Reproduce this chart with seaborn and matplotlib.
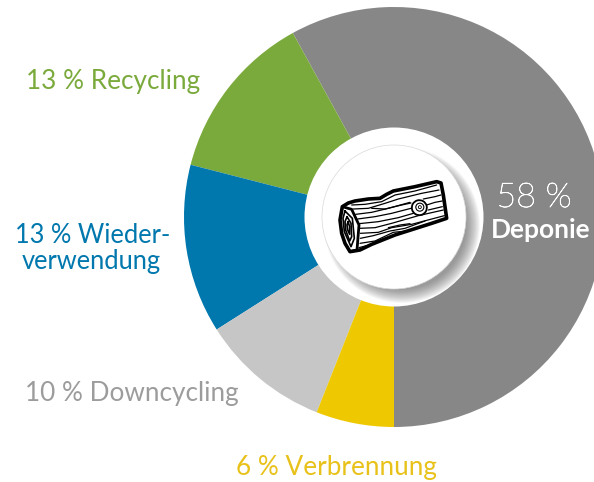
import matplotlib
matplotlib.use("Agg")
import matplotlib.pyplot as plt
import matplotlib.patheffects as pe
from matplotlib.patches import Circle, Ellipse, Polygon
import seaborn as sns

categories = ["Deponie", "Recycling", "Wiederverwendung", "Downcycling", "Verbrennung"]
shares = [58, 13, 13, 10, 6]
slice_colors = ["#878787", "#7BAA3C", "#0077AD", "#C6C6C6", "#EEC800"]

sns.set_theme(style="white")
plt.rcParams["font.family"] = ["Lato", "DejaVu Sans"]
palette = sns.color_palette(slice_colors)

W, H = 594, 482
fig = plt.figure(figsize=(W / 100, H / 100), dpi=100, facecolor="white")
ax = fig.add_axes([0, 0, 1, 1])
ax.set_xlim(0, W)
ax.set_ylim(H, 0)
ax.axis("off")

# Pie in a y-up axes, so that its angles run as usual
pie_ax = fig.add_axes([0, 0, 1, 1], zorder=0)
CX, CY = 394, 217
pie_ax.pie(shares, colors=palette, startangle=270, counterclock=True,
           center=(CX, H - CY), radius=210, frame=True,
           wedgeprops=dict(linewidth=0))
pie_ax.set_xlim(0, W)
pie_ax.set_ylim(0, H)
pie_ax.set_aspect("auto")
pie_ax.axis("off")

ax.set_zorder(1)
ax.patch.set_alpha(0)

# Centre: white ring, soft shadow, white disc
ring = Circle((CX, CY), 89.5, fc="white", ec="none", zorder=2)
ax.add_patch(ring)
for i in range(24):
    r = 78 - i * 0.6
    s = Circle((CX + 8, CY + 8), r, fc="#505050", ec="none", alpha=0.03, zorder=3)
    ax.add_patch(s)
    s.set_clip_path(ring)
ax.add_patch(Circle((CX, CY), 72, fc="white", ec="#d8d8d8", lw=0.5, zorder=4))


def px(points):
    return [(335 + x / 3, 175 + y / 3) for x, y in points]


def stroke(points, lw=1.0):
    xs, ys = zip(*px(points))
    ax.plot(xs, ys, color="black", lw=lw, solid_capstyle="round",
            solid_joinstyle="round", zorder=6)


# Log icon
outline = [(22, 95), (40, 84), (60, 78), (100, 72), (135, 70), (155, 58), (175, 48),
           (240, 35), (305, 20), (318, 24), (325, 60), (335, 130), (290, 145),
           (180, 180), (110, 208), (75, 225), (45, 230), (30, 205), (20, 175), (15, 135)]
ax.add_patch(Polygon(px(outline), closed=True, fc="white", ec="black", lw=2.6,
                     joinstyle="round", zorder=5))
stroke([(22, 95), (50, 103), (72, 150), (66, 225), (45, 230)], 2.0)
for pts in [
    [(30, 108), (52, 130), (58, 190), (48, 215), (28, 170), (24, 130), (30, 108)],
    [(36, 125), (48, 145), (50, 185), (44, 198), (32, 165), (30, 140), (36, 125)],
    [(39, 140), (44, 155), (44, 178), (38, 165), (36, 150), (39, 140)],
]:
    stroke(pts, 1.2)
grains = [
    [(50, 90), (90, 88), (140, 80), (180, 60), (240, 48), (305, 30)],
    [(55, 102), (100, 100), (150, 85), (190, 72), (260, 55), (312, 45)],
    [(62, 118), (110, 112), (160, 100), (225, 82)],
    [(110, 100), (150, 102), (200, 90), (228, 84)],
    [(68, 132), (120, 125), (170, 115), (228, 100)],
    [(72, 146), (130, 140), (190, 128), (235, 115)],
    [(74, 160), (120, 158), (170, 145), (250, 122), (325, 105)],
    [(76, 175), (130, 172), (170, 158), (230, 148), (328, 122)],
    [(76, 190), (115, 182), (165, 168), (210, 160), (270, 138)],
    [(75, 205), (120, 198), (175, 172), (215, 168)],
    [(72, 218), (110, 208), (160, 188), (190, 178)],
    [(265, 72), (300, 65), (318, 60)],
    [(275, 90), (300, 82), (322, 78)],
    [(280, 105), (322, 95)],
    [(160, 158), (195, 150), (225, 146)],
]
for g in grains:
    stroke(g, 0.9)
kx, ky = 335 + 253 / 3, 175 + 98 / 3
ax.add_patch(Ellipse((kx, ky), 15, 15, angle=-15, fc="white", ec="black", lw=1.3, zorder=7))
ax.add_patch(Ellipse((kx + 0.5, ky - 0.5), 8, 8, fc="white", ec="black", lw=0.8, zorder=7))
ax.add_patch(Ellipse((kx + 0.5, ky - 0.5), 3, 3, fc="white", ec="black", lw=0.6, zorder=7))

# Labels
fam = ["Lato", "DejaVu Sans"]
label_style = dict(va="center", zorder=8, family=fam, fontsize=18.8)
ax.text(26, 82, f"{shares[1]} % {categories[1]}", color="#7BAA3C", **label_style)
wrap_style = dict(label_style, fontsize=18.4)
ax.text(15, 235.5, f"{shares[2]} % Wieder-", color="#0077AD", **wrap_style)
ax.text(22, 262, "verwendung", color="#0077AD", **wrap_style)
ax.text(25, 394, f"{shares[3]} % {categories[3]}", color="#9C9C9C", **label_style)
ax.text(236, 468, f"{shares[4]} % {categories[4]}", color="#E8C21A", **label_style)
ax.text(534, 198, f"{shares[0]} %", color="white", fontsize=24.5, ha="center",
        fontweight="light", va="center", zorder=8, family=fam,
        path_effects=[pe.withStroke(linewidth=0.5, foreground="white")])
ax.text(540.5, 230, categories[0], color="white", fontsize=19, ha="center",
        fontweight="bold", va="center", zorder=8, family=fam)

fig.savefig("out.png", dpi=100, facecolor="white")
